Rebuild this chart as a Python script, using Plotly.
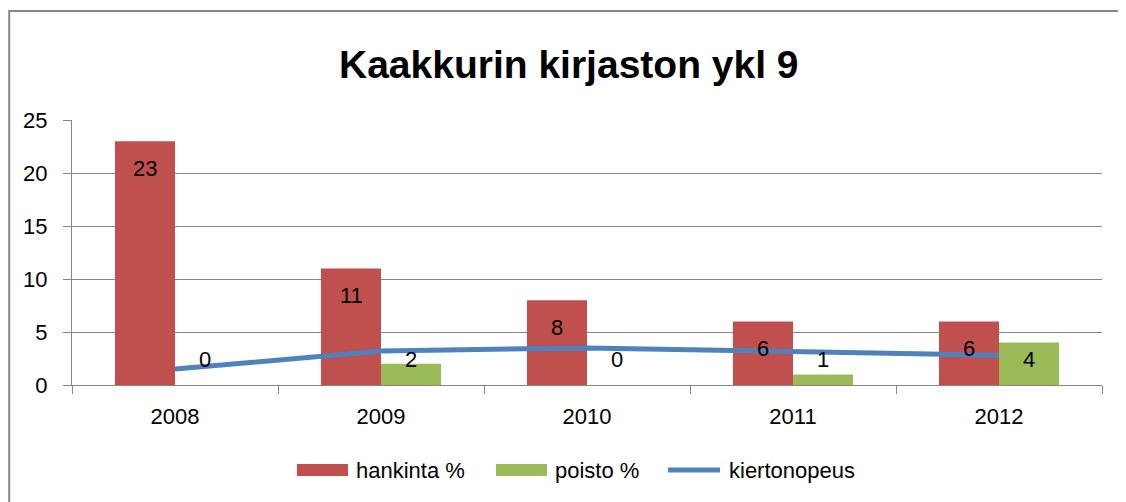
import plotly.graph_objects as go

years = ["2008", "2009", "2010", "2011", "2012"]
hankinta = [23, 11, 8, 6, 6]
poisto = [0, 2, 0, 1, 4]
kiertonopeus = [1.5, 3.2, 3.5, 3.1, 2.8]
names = ["hankinta %", "poisto %", "kiertonopeus"]
title = "Kaakkurin kirjaston ykl 9"

RED = "#C0504D"
GREEN = "#9BBB59"
BLUE = "#4F81BD"
GRID = "#868686"
FONT = "Liberation Sans, Arial, sans-serif"
FS = 22

# the page body has an 8px margin, so the figure is drawn 8px in from the corner
OFF = 8
W, H = 1126 - OFF, 502 - OFF
X0, X1, Y0, Y1 = 72, 1102, 120, 385  # plot area in screen pixels
L, R, T, B = X0 - OFF, W + OFF - X1, Y0 - OFF, H + OFF - Y1
PW, PH = X1 - X0, Y1 - Y0


def px(x):
    return (x - X0) / PW


def py(y):
    return (Y1 - y) / PH


fig = go.Figure()
fig.add_bar(x=years, y=hankinta, name=names[0], marker_color=RED, marker_line_width=0)
fig.add_bar(x=years, y=poisto, name=names[1], marker_color=GREEN, marker_line_width=0)
fig.add_scatter(x=years, y=kiertonopeus, name=names[2], mode="lines",
                line=dict(color=BLUE, width=5))

ann = []
for i, v in enumerate(hankinta):
    ann.append(dict(x=i, y=v, xref="x", yref="y", text=str(v), showarrow=False,
                    xshift=-30, yshift=-27, font=dict(family=FONT, size=FS, color="black")))
for i, v in enumerate(poisto):
    ann.append(dict(x=i, y=0, xref="x", yref="y", text=str(v), showarrow=False,
                    xshift=30, yshift=26, font=dict(family=FONT, size=FS, color="black")))

# custom legend + outer border
shapes = [
    dict(type="rect", xref="paper", yref="paper", x0=px(9.2), x1=px(1140), y0=py(11), y1=py(520),
         line=dict(color=GRID, width=2), fillcolor="rgba(0,0,0,0)", layer="below"),
    dict(type="rect", xref="paper", yref="paper", x0=px(297), x1=px(348), y0=py(476), y1=py(464),
         line_width=0, fillcolor=RED),
    dict(type="rect", xref="paper", yref="paper", x0=px(496), x1=px(547), y0=py(476), y1=py(464),
         line_width=0, fillcolor=GREEN),
    dict(type="line", xref="paper", yref="paper", x0=px(668), x1=px(720), y0=py(470), y1=py(470),
         line=dict(color=BLUE, width=5)),
]
for xpos, nm in zip([354, 553, 727], names):
    ann.append(dict(x=px(xpos), y=py(470), xref="paper", yref="paper", text=nm, showarrow=False,
                    xanchor="left", yanchor="middle", font=dict(family=FONT, size=FS, color="black")))

ann.append(dict(x=px(569), y=py(64), xref="paper", yref="paper", text="<b>" + title + "</b>",
                showarrow=False, xanchor="center", yanchor="middle",
                font=dict(family=FONT, size=39, color="black")))

fig.update_layout(
    width=W, height=H,
    margin=dict(l=L, r=R, t=T, b=B, autoexpand=False),
    paper_bgcolor="white", plot_bgcolor="white",
    barmode="group", bargap=0.417, bargroupgap=0,
    showlegend=False,
    font=dict(family=FONT, size=FS, color="black"),
    annotations=ann, shapes=shapes,
)
fig.update_xaxes(type="category", range=[-0.5, 4.5], showline=True, linecolor=GRID, linewidth=1,
                 ticks="outside", ticklen=8, tickcolor=GRID, tickson="boundaries",
                 showgrid=False, ticklabelstandoff=12, automargin=False,
                 tickfont=dict(family=FONT, size=FS, color="black"))
fig.update_yaxes(range=[0, 25], dtick=5, showline=True, linecolor=GRID, linewidth=1,
                 ticks="outside", ticklen=8, tickcolor=GRID, showgrid=True, gridcolor=GRID,
                 gridwidth=1, zeroline=False, ticklabelstandoff=11, automargin=False,
                 tickfont=dict(family=FONT, size=FS, color="black"))

fig.write_html("out.html")
